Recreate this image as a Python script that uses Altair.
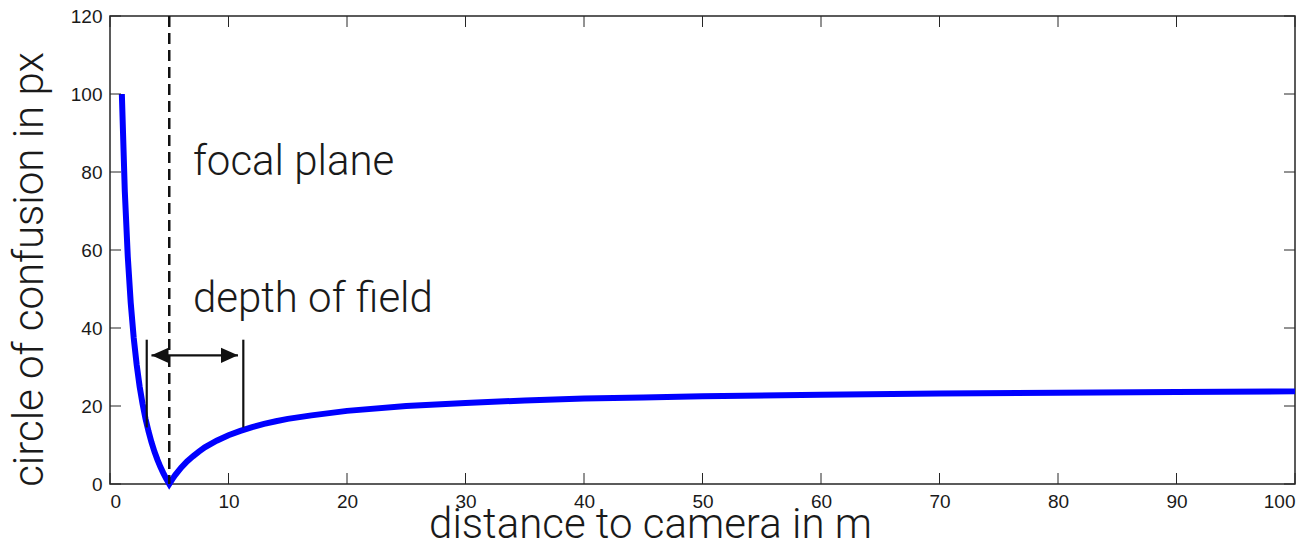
import altair as alt
import pandas as pd

# curve
dist = [1, 1.25, 1.5, 1.75, 2, 2.25, 2.5, 2.75, 3, 3.25, 3.5, 3.75, 4, 4.25, 4.5, 4.75, 5,
        5.25, 5.5, 6, 6.5, 7, 7.5, 8, 9, 10, 11, 12, 13, 14, 15, 17, 20, 25, 30, 35, 40,
        45, 50, 60, 70, 80, 90, 100]
coc = [100, 75, 58.3, 46.4, 37.5, 30.6, 25, 20.5, 16.7, 13.5, 10.7, 8.3, 6.25, 4.4, 2.8, 1.3, 0,
       1.2, 2.3, 4.2, 5.8, 7.1, 8.3, 9.4, 11.1, 12.5, 13.6, 14.6, 15.4, 16.1, 16.7, 17.6, 18.75,
       20, 20.8, 21.4, 21.9, 22.2, 22.5, 22.9, 23.2, 23.4, 23.6, 23.75]

focal = [5]
dof_x = [3.1, 11.25]
dof_y_low = [14.5, 14.5]
dof_y_high = [37, 37]
arrow_x = [3.5, 10.8]
arrow_y = [33, 33]
arrow_dir = ["left", "right"]

labels_text = ["focal plane", "depth of field"]
labels_x = [7.0, 7.0]
labels_y = [79.2, 44.1]

x_ticks = list(range(0, 101, 10))
y_ticks = list(range(0, 121, 20))

W, H = 1185, 468
TL = 11
INK = "#262626"
TFONT = "Roboto"
TSIZE = 42

xs = alt.Scale(domain=[0, 100], nice=False, zero=False)
ys = alt.Scale(domain=[0, 120], nice=False, zero=False)

x_axis = alt.Axis(
    values=x_ticks, title="distance to camera in m", grid=False, domain=False,
    ticks=False, tickSize=0, labelPadding=8, labelFont="Liberation Sans",
    labelFontSize=19, labelColor="#1a1a1a",
    titleFont=TFONT, titleFontWeight=300, titleFontSize=TSIZE, titleColor="#1a1a1a",
    titleX=540, titleY=53, titleBaseline="alphabetic", titleAlign="center")
y_axis = alt.Axis(
    values=y_ticks, title="circle of confusion in px", grid=False, domain=False,
    ticks=False, tickSize=0, labelPadding=8, labelFont="Liberation Sans",
    labelFontSize=19, labelColor="#1a1a1a",
    titleFont=TFONT, titleFontWeight=300, titleFontSize=TSIZE, titleColor="#1a1a1a",
    titleX=-68, titleY=253, titleAngle=270, titleBaseline="alphabetic",
    titleAlign="center")

curve_df = pd.DataFrame({"d": dist, "c": coc})
curve = alt.Chart(curve_df).mark_line(color="#0000FF", strokeWidth=6).encode(
    x=alt.X("d:Q", scale=xs, axis=x_axis),
    y=alt.Y("c:Q", scale=ys, axis=y_axis),
    order="d:Q",
)

focal_df = pd.DataFrame({"d": focal})
focal_rule = alt.Chart(focal_df).mark_rule(color="#111111", strokeWidth=2.5, strokeDash=[11, 6]).encode(
    x=alt.X("d:Q", scale=xs, axis=x_axis)
)

dof_df = pd.DataFrame({"d": dof_x, "c": dof_y_low, "c2": dof_y_high})
dof_bars = alt.Chart(dof_df).mark_rule(color="#111111", strokeWidth=2.2).encode(
    x=alt.X("d:Q", scale=xs, axis=x_axis),
    y=alt.Y("c:Q", scale=ys, axis=y_axis),
    y2="c2:Q",
)

shaft_df = pd.DataFrame({"d": [arrow_x[0]], "d2": [arrow_x[1]], "c": [arrow_y[0]]})
shaft = alt.Chart(shaft_df).mark_rule(color="#111111", strokeWidth=2.2).encode(
    x=alt.X("d:Q", scale=xs, axis=x_axis),
    x2="d2:Q",
    y=alt.Y("c:Q", scale=ys, axis=y_axis),
)

heads_df = pd.DataFrame({"d": arrow_x, "c": arrow_y, "dir": arrow_dir})
heads = alt.Chart(heads_df).mark_point(filled=True, opacity=1, color="#111111", size=289).encode(
    x=alt.X("d:Q", scale=xs, axis=x_axis),
    y=alt.Y("c:Q", scale=ys, axis=y_axis),
    shape=alt.Shape("dir:N", legend=None, scale=alt.Scale(
        domain=["left", "right"],
        range=["M0,0L2,-0.9L2,0.9Z", "M0,0L-2,-0.9L-2,0.9Z"])),
)

text_df = pd.DataFrame({"t": labels_text, "d": labels_x, "c": labels_y})
texts = alt.Chart(text_df).mark_text(
    align="left", baseline="alphabetic", font=TFONT, fontWeight=300,
    fontSize=TSIZE, color="#1a1a1a").encode(
    x=alt.X("d:Q", scale=xs, axis=x_axis),
    y=alt.Y("c:Q", scale=ys, axis=y_axis),
    text="t:N",
)

xt_df = pd.DataFrame({"d": x_ticks})
yt_df = pd.DataFrame({"c": y_ticks})
xt_bottom = alt.Chart(xt_df).mark_rule(color=INK, strokeWidth=1).encode(
    x=alt.X("d:Q", scale=xs, axis=x_axis), y=alt.value(H), y2=alt.value(H - TL))
xt_top = alt.Chart(xt_df).mark_rule(color=INK, strokeWidth=1).encode(
    x=alt.X("d:Q", scale=xs, axis=x_axis), y=alt.value(0), y2=alt.value(TL))
yt_left = alt.Chart(yt_df).mark_rule(color=INK, strokeWidth=1).encode(
    y=alt.Y("c:Q", scale=ys, axis=y_axis), x=alt.value(0), x2=alt.value(TL))
yt_right = alt.Chart(yt_df).mark_rule(color=INK, strokeWidth=1).encode(
    y=alt.Y("c:Q", scale=ys, axis=y_axis), x=alt.value(W), x2=alt.value(W - TL))

chart = alt.layer(
    curve, xt_bottom, xt_top, yt_left, yt_right,
    focal_rule, dof_bars, shaft, heads, texts,
).properties(
    width=W, height=H,
    autosize=alt.AutoSizeParams(type="none"),
    padding={"left": 102, "top": 8, "right": 11, "bottom": 54},
    background="white",
).configure_view(stroke=INK, strokeWidth=1.5)

chart.save("out.html", embed_options={"renderer": "svg", "actions": False})
